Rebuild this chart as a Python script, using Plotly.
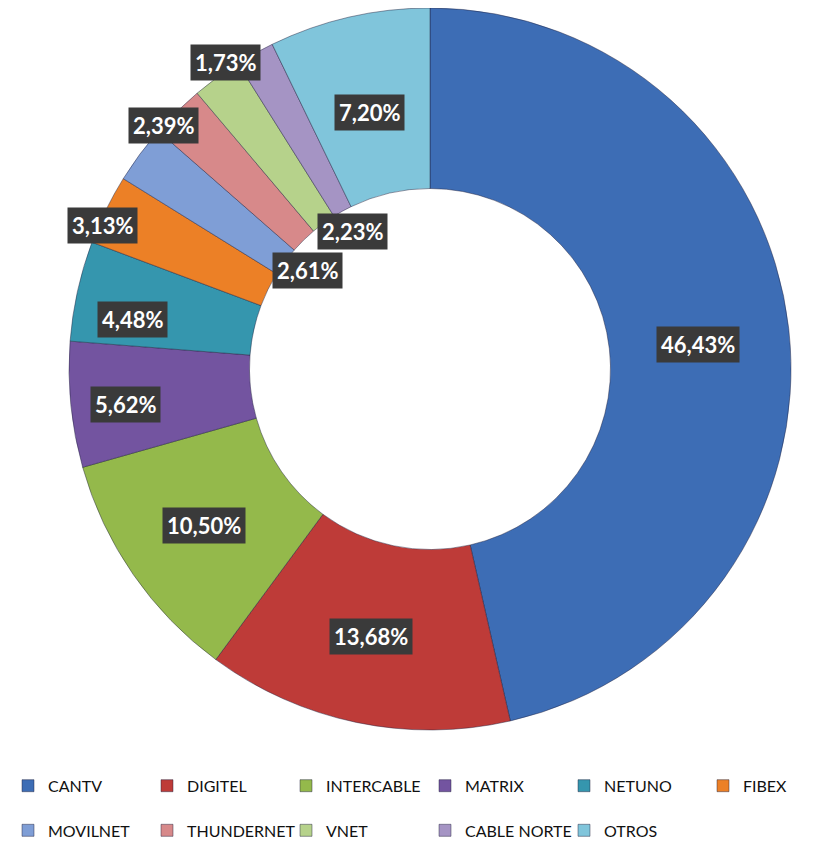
import math
import plotly.graph_objects as go

categories = ["CANTV", "DIGITEL", "INTERCABLE", "MATRIX", "NETUNO", "FIBEX",
              "MOVILNET", "THUNDERNET", "VNET", "CABLE NORTE", "OTROS"]
values = [46.43, 13.68, 10.50, 5.62, 4.48, 3.13, 2.61, 2.39, 2.23, 1.73, 7.20]

colors = ["#3D6DB5", "#BE3B38", "#94B94B", "#7354A0", "#3596AE", "#EC8026",
          "#7F9ED6", "#D7898A", "#B6D28B", "#A594C4", "#80C5DB"]

# label placement (style): radius as fraction of outer radius, angle tweak in degrees
label_r = [0.745, 0.76, 0.76, 0.85, 0.835, 0.99, 0.436, 1.0, 0.437, 1.02, 0.731]
label_dang = [1.2, 0.7, 0, -1, -3, -2.5, 2.1, -3.1, 6.7, -4.7, -0.4]

W, H = 835, 845
dom_x = [61 / W, 783 / W]
dom_y = [123 / H, 1.0]
hole = 0.5

fig = go.Figure(go.Pie(
    labels=["&nbsp;<br>" + c for c in categories], values=values, customdata=categories,
    sort=False, direction="clockwise", rotation=0, hole=hole, textinfo="none",
    hovertemplate="%{customdata}: %{percent}<extra></extra>",
    marker=dict(colors=colors, line=dict(color="rgba(30,30,60,0.45)", width=1)),
    domain=dict(x=dom_x, y=dom_y),
))

cx = W * (dom_x[0] + dom_x[1]) / 2
cy_screen = H - H * (dom_y[0] + dom_y[1]) / 2
R = min(W * (dom_x[1] - dom_x[0]), H * (dom_y[1] - dom_y[0])) / 2

total = sum(values)
cum = 0.0
annotations = []
for i, v in enumerate(values):
    mid = (cum + v / 2) / total * 360 + label_dang[i]
    cum += v
    th = math.radians(mid)
    r = label_r[i] * R
    px = cx + r * math.sin(th)
    py = cy_screen - r * math.cos(th)
    annotations.append(dict(
        x=px / W, y=1 - py / H, xref="paper", yref="paper",
        xanchor="center", yanchor="middle",
        text=f"<b>{v:.2f}%</b>".replace(".", ","), showarrow=False,
        font=dict(family="Lato, sans-serif", size=22, color="white"),
        bgcolor="#3A3A3A", borderpad=4,
    ))

fig.update_layout(
    width=W, height=H,
    margin=dict(l=0, r=0, t=0, b=0),
    paper_bgcolor="white", plot_bgcolor="white",
    annotations=annotations,
    showlegend=True,
    legend=dict(orientation="h", x=0, xanchor="left", y=5 / H, yanchor="bottom",
                entrywidth=94, entrywidthmode="pixels", valign="bottom",
                font=dict(family="Lato, sans-serif", size=16, color="#111111"),
                traceorder="normal", itemwidth=30),
)

fig.write_html("out.html")
